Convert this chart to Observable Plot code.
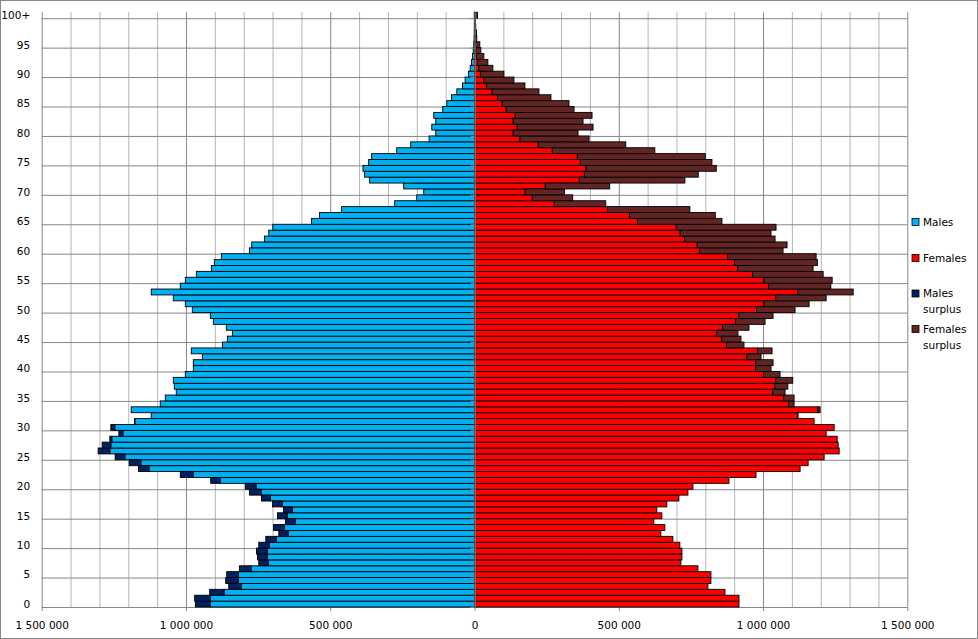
<!DOCTYPE html>
<html><head><meta charset="utf-8">
<script src="https://cdn.jsdelivr.net/npm/d3@7"></script>
<script src="https://cdn.jsdelivr.net/npm/@observablehq/plot@0.6"></script>
<style>body{margin:0;background:#fff} #chart{width:978px;height:639px}</style>
</head><body><div id="chart"></div>
<script>
// Ages 0..99 and "100+"
const ages = d3.range(0, 101);
const males = [
967600, 969900, 917800, 851800, 862300, 858800, 814800, 747700, 752300, 755800,
747700, 723400, 678300, 696800, 655100, 682900, 662000, 700200, 738400, 780100,
794000, 914300, 1019700, 1164300, 1196800, 1245400, 1304400, 1290500, 1263900, 1232600,
1260400, 1178200, 1120400, 1189800, 1089100, 1071700, 1033600, 1040500, 1044000, 1002300,
974500, 974500, 943300, 981500, 873800, 856500, 839100, 860000, 905100, 915500,
978000, 1002300, 1044000, 1120400, 1019700, 1002300, 964100, 912000, 901600, 877300,
780100, 772000, 728000, 713000, 699100, 564800, 537000, 460600, 276600, 200200,
175900, 245400, 363400, 380800, 386600, 366900, 356500, 269700, 221100, 157400,
134300, 148100, 134300, 141200, 110000, 96000, 79900, 61300, 41700, 32400,
20800, 15000, 10400, 7000, 4600, 2500, 1500, 1000, 700, 500,
1000
];
const females = [
916700, 916700, 868000, 809000, 819400, 819400, 774300, 715300, 718800, 718800,
711800, 687500, 645800, 659700, 621500, 649300, 631900, 666700, 708300, 739600,
757000, 881900, 975700, 1128500, 1156300, 1211800, 1263900, 1260400, 1256900, 1218700,
1246500, 1177000, 1121000, 1197900, 1107600, 1107600, 1076400, 1086000, 1103000, 1059000,
1027800, 1034700, 993100, 1031300, 934000, 923600, 913200, 951400, 1007000, 1034700,
1111100, 1159700, 1218700, 1312500, 1235000, 1239600, 1208300, 1173600, 1188700, 1184000,
1069400, 1083300, 1041700, 1027800, 1045100, 857600, 834500, 746500, 454900, 340300,
312500, 468700, 729200, 775500, 838000, 822900, 799800, 625000, 524300, 397000,
358800, 410900, 376200, 407400, 344900, 327500, 265000, 223400, 174800, 136600,
101900, 63700, 46300, 32400, 22000, 18500, 8000, 7000, 4500, 3000,
10400
];
const yTickAges = [0,5,10,15,20,25,30,35,40,45,50,55,60,65,70,75,80,85,90,95,100];
const yTickLabels = ["0","5","10","15","20","25","30","35","40","45","50","55","60","65","70","75","80","85","90","95","100+"];
const xTicks = [-1500000, -1000000, -500000, 0, 500000, 1000000, 1500000];
const minorTicks = d3.range(-1500000, 1500001, 100000).filter(d => d % 500000 !== 0);
const seriesNames = [["Males"], ["Females"], ["Males", "surplus"], ["Females", "surplus"]];
const seriesColors = ["#00b0f0", "#ff0000", "#002060", "#632523"];

const rows = ages.map((a, i) => ({age: a, m: males[i], f: females[i], c: Math.min(males[i], females[i])}));
const labelOf = new Map(yTickAges.map((a, i) => [a + 0.5, yTickLabels[i]]));
const fmt = v => d3.format(",")(Math.abs(v)).replace(/,/g, " ");
const FONT = "DejaVu Sans";

const plot = Plot.plot({
  width: 978, height: 639,
  marginLeft: 41.7, marginRight: 70.7, marginTop: 12.3, marginBottom: 32,
  style: {fontFamily: FONT, fontSize: "10.5px", color: "#000", background: "#fff"},
  x: {domain: [-1500000, 1500000]},
  y: {domain: [0, 101]},
  marks: [
    Plot.ruleX(minorTicks, {stroke: "#b4b4b4", strokeWidth: 1}),
    Plot.ruleX(xTicks, {stroke: "#868686", strokeWidth: 1, insetBottom: -4}),
    Plot.ruleY(yTickAges, {stroke: "#868686", strokeWidth: 1}),
    Plot.rect(rows, {x1: 0, x2: d => -d.c, y1: "age", y2: d => d.age + 1, fill: seriesColors[0], stroke: "#000", strokeWidth: 0.9}),
    Plot.rect(rows.filter(d => d.m > d.f), {x1: d => -d.c, x2: d => -d.m, y1: "age", y2: d => d.age + 1, fill: seriesColors[2], stroke: "#000", strokeWidth: 0.9}),
    Plot.rect(rows, {x1: 0, x2: d => d.c, y1: "age", y2: d => d.age + 1, fill: seriesColors[1], stroke: "#000", strokeWidth: 0.9}),
    Plot.rect(rows.filter(d => d.f > d.m), {x1: d => d.c, x2: d => d.f, y1: "age", y2: d => d.age + 1, fill: seriesColors[3], stroke: "#000", strokeWidth: 0.9}),
    Plot.ruleX([0], {stroke: "#868686", strokeWidth: 1.2}),
    Plot.ruleY(yTickAges, {x1: 0, x2: 0, insetLeft: -4, stroke: "#868686"}),
    Plot.axisY(yTickAges.map(a => a + 0.5), {tickSize: 0, tickPadding: 12, tickFormat: d => labelOf.get(d), label: null, fill: "#000"}),
    Plot.axisX(xTicks, {tickSize: 0, tickPadding: 14, tickFormat: fmt, label: null, fill: "#000"})
  ]
});

const svg = d3.select(plot);
svg.append("rect").attr("x", 0.5).attr("y", 0.5).attr("width", 977).attr("height", 638)
  .attr("fill", "none").attr("stroke", "#868686");
const legendY = [222, 258, 293.5, 329];
const lg = svg.append("g").attr("font-family", FONT).attr("font-size", "10.5px")
  .attr("fill", "#000").attr("text-anchor", "start");
seriesNames.forEach((lines, i) => {
  const cy = legendY[i];
  lg.append("rect").attr("x", 912).attr("y", cy - 3.5).attr("width", 7).attr("height", 7)
    .attr("fill", seriesColors[i]).attr("stroke", "#000").attr("stroke-width", 0.8);
  lines.forEach((t, j) => {
    lg.append("text").attr("x", 923).attr("y", cy + j * 16).attr("dy", "0.35em")
      .attr("text-anchor", "start").text(t);
  });
});
document.getElementById("chart").appendChild(plot);
</script>
</body></html>
